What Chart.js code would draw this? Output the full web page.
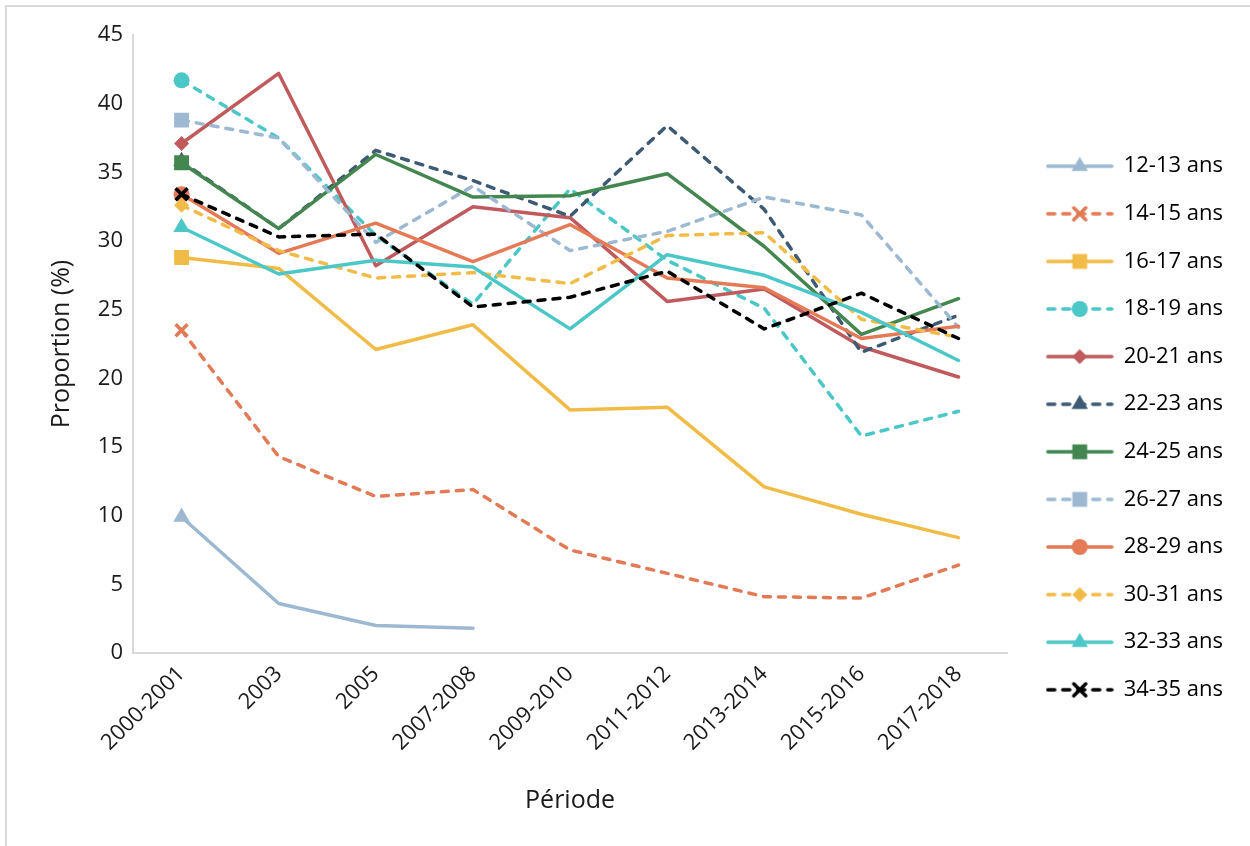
<!DOCTYPE html>
<html lang="fr">
<head>
<meta charset="utf-8">
<title>Proportion par groupe d'âge</title>
<script src="https://cdn.jsdelivr.net/npm/chart.js@4"></script>
<style>
  html, body { margin: 0; padding: 0; background: #fff; }
  #wrap { position: relative; width: 1250px; height: 846px; }
  #frame {
    position: absolute; left: 5px; top: 5px; right: 0; bottom: 0;
    border-left: 2px solid #d9d9d9; border-top: 2px solid #d9d9d9;
    pointer-events: none;
  }
</style>
</head>
<body>
<div id="wrap">
  <canvas id="chart" width="1250" height="846"></canvas>
  <div id="frame"></div>
</div>
<script>
const periods = ["2000-2001", "2003", "2005", "2007-2008", "2009-2010", "2011-2012", "2013-2014", "2015-2016", "2017-2018"];
const yTicks = [0, 5, 10, 15, 20, 25, 30, 35, 40, 45];

const age12_13 = [9.9, 3.6, 2.0, 1.8, null, null, null, null, null];
const age14_15 = [23.5, 14.3, 11.4, 11.9, 7.5, 5.8, 4.1, 4.0, 6.4];
const age16_17 = [28.8, 28.0, 22.1, 23.9, 17.7, 17.9, 12.1, 10.1, 8.4];
const age18_19 = [41.7, 37.5, 30.4, 25.4, 33.8, 28.6, 25.1, 15.8, 17.6];
const age20_21 = [37.1, 42.2, 28.2, 32.5, 31.7, 25.6, 26.5, 22.3, 20.1];
const age22_23 = [35.8, 30.9, 36.6, 34.4, 31.8, 38.4, 32.3, 21.9, 24.6];
const age24_25 = [35.7, 30.9, 36.3, 33.2, 33.3, 34.9, 29.6, 23.2, 25.8];
const age26_27 = [38.8, 37.5, 29.9, 34.0, 29.3, 30.7, 33.2, 31.9, 23.7];
const age28_29 = [33.4, 29.1, 31.3, 28.5, 31.2, 27.3, 26.6, 22.9, 23.8];
const age30_31 = [32.6, 29.3, 27.3, 27.7, 26.9, 30.4, 30.6, 24.3, 23.0];
const age32_33 = [31.0, 27.6, 28.6, 28.1, 23.6, 29.0, 27.5, 24.8, 21.3];
const age34_35 = [33.4, 30.3, 30.5, 25.2, 25.9, 27.8, 23.6, 26.2, 22.9];

const FONT = "'Open Sans', 'Noto Sans', sans-serif";
const TEXT = "#1a1a1a";
const DASH = [7, 8];

// label, data, colour, dashed, marker, marker radius
const series = [
  ["12-13 ans", age12_13, "#9cb9d1", false, "triangle", 9.5],
  ["14-15 ans", age14_15, "#e27a56", true, "crossRot", 8.5],
  ["16-17 ans", age16_17, "#f1bb47", false, "rect", 10.5],
  ["18-19 ans", age18_19, "#4cc7c7", true, "circle", 8],
  ["20-21 ans", age20_21, "#c05a5c", false, "rectRot", 7.5],
  ["22-23 ans", age22_23, "#3e5a73", true, "triangle", 9.5],
  ["24-25 ans", age24_25, "#43864f", false, "rect", 10.5],
  ["26-27 ans", age26_27, "#9cb9d1", true, "rect", 10.5],
  ["28-29 ans", age28_29, "#e47a56", false, "circle", 8],
  ["30-31 ans", age30_31, "#f1bb47", true, "rectRot", 7.5],
  ["32-33 ans", age32_33, "#4cc7c7", false, "triangle", 9.5],
  ["34-35 ans", age34_35, "#000000", true, "crossRot", 8.5],
];

function makeLegendIcon(color, dashed, marker, radius) {
  const c = document.createElement("canvas");
  c.width = 68;
  c.height = 28;
  const g = c.getContext("2d");
  g.strokeStyle = color;
  g.fillStyle = color;
  g.lineWidth = 3.5;
  g.lineCap = "round";
  g.setLineDash(dashed ? DASH : []);
  g.beginPath();
  g.moveTo(2, 14);
  g.lineTo(66, 14);
  g.stroke();
  g.setLineDash([]);
  Chart.helpers.drawPoint(g, { pointStyle: marker, radius: radius, borderWidth: marker === "crossRot" ? 3.5 : 0, rotation: 0 }, 34, 14);
  return c;
}

const legendIcons = series.map(s => makeLegendIcon(s[2], s[3], s[4], s[5]));

const datasets = series.map((s, i) => ({
  label: s[0],
  data: s[1],
  borderColor: s[2],
  backgroundColor: s[2],
  borderWidth: 3.5,
  borderDash: s[3] ? DASH : [],
  borderCapStyle: "round",
  borderJoinStyle: "round",
  tension: 0,
  spanGaps: false,
  pointStyle: s[4],
  pointRadius: ctx => (ctx.dataIndex === 0 ? s[5] : 0),
  pointHoverRadius: ctx => (ctx.dataIndex === 0 ? s[5] : 0),
  pointBorderWidth: s[4] === "crossRot" ? 3.5 : 0,
  pointBorderColor: s[2],
  pointBackgroundColor: s[2],
  // later series are drawn on top, like the original
  order: series.length - i,
}));

new Chart(document.getElementById("chart"), {
  type: "line",
  data: { labels: periods, datasets: datasets },
  options: {
    responsive: false,
    animation: false,
    events: [],
    layout: { padding: { left: 0, top: 35, right: 17, bottom: 25 } },
    plugins: {
      tooltip: { enabled: false },
      legend: {
        position: "right",
        align: "center",
        maxWidth: 300,
        labels: {
          usePointStyle: true,
          pointStyleWidth: 66,
          padding: 25.6,
          color: TEXT,
          font: { family: FONT, size: 22 },
          generateLabels: chart =>
            chart.data.datasets.map((ds, i) => ({
              text: ds.label,
              pointStyle: legendIcons[i],
              datasetIndex: i,
              hidden: false,
              lineWidth: 0,
              fillStyle: "transparent",
              strokeStyle: "transparent",
            })),
        },
      },
    },
    scales: {
      x: {
        offset: true,
        grid: { display: false, drawTicks: false },
        border: { display: true, color: "#d9d9d9", width: 2 },
        ticks: {
          minRotation: 45,
          maxRotation: 45,
          padding: 8,
          color: TEXT,
          font: { family: FONT, size: 22 },
        },
        title: {
          display: true,
          text: "Période",
          color: TEXT,
          font: { family: FONT, size: 25 },
          padding: { top: 0, bottom: 5 },
        },
        afterFit: scale => {
          scale.height = 168;
        },
      },
      y: {
        min: 0,
        max: 45,
        afterBuildTicks: scale => {
          scale.ticks = yTicks.map(v => ({ value: v }));
        },
        grid: { display: false, drawTicks: false },
        border: { display: true, color: "#d9d9d9", width: 2 },
        ticks: {
          padding: 10,
          color: TEXT,
          font: { family: FONT, size: 22 },
        },
        title: {
          display: true,
          text: "Proportion (%)",
          color: TEXT,
          font: { family: FONT, size: 25 },
          padding: { top: 47, bottom: 0 },
        },
        afterFit: scale => {
          scale.width = 133;
        },
      },
      gap: {
        type: "linear",
        position: "right",
        display: true,
        grid: { display: false, drawTicks: false },
        border: { display: false },
        ticks: { display: false },
        afterFit: scale => {
          scale.width = 14;
        },
      },
    },
  },
});
</script>
</body>
</html>
